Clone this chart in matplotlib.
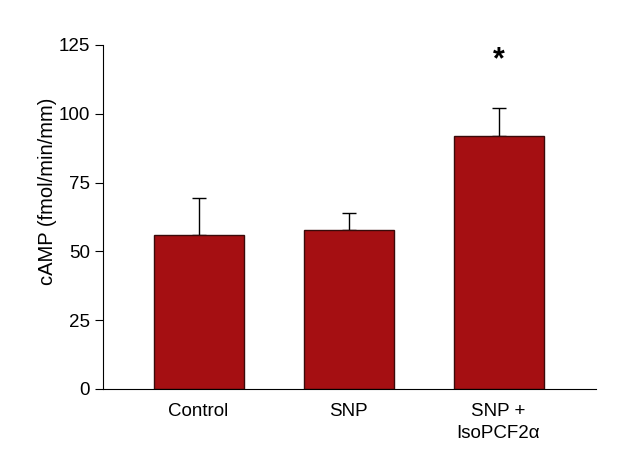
import numpy as np
import matplotlib.pyplot as plt

plt.rcParams['font.family'] = ['Liberation Sans', 'DejaVu Sans']

# data
groups = ["Control", "SNP", "SNP +\nIsoPCF2\u03b1"]
means = [55.9, 57.7, 91.9]
errs = [13.4, 6.2, 10.1]
yticks = [0, 25, 50, 75, 100, 125]

fig = plt.figure(figsize=(6.23, 4.55), dpi=100)
ax = fig.add_axes([0.1653, 0.1451, 0.7914, 0.756])

x = np.arange(len(groups))
ax.bar(x, means, width=0.6, color="#A50F12", edgecolor="#3a0a0a", linewidth=1, zorder=2)
ax.errorbar(x, means, yerr=[np.zeros(len(errs)), errs], fmt="none",
            ecolor="black", elinewidth=1, capsize=4.7, capthick=1, zorder=1)

# significance marker
ax.text(x[2], 119.5, "*", ha="center", va="center", fontsize=22, fontweight="bold")

ax.set_xlim(-0.637, 2.65)
ax.set_ylim(0, 125)
ax.set_yticks(yticks)
ax.set_xticks(x)
ax.set_xticklabels(groups, fontsize=13.5, linespacing=1.38)
ax.tick_params(axis="x", length=0, pad=10)
ax.tick_params(axis="y", labelsize=13.5, length=6, pad=3.5, direction="out")
ax.set_ylabel("cAMP (fmol/min/mm)", fontsize=14.5)
ax.yaxis.set_label_coords(-0.093, 0.576)

for s in ["top", "right"]:
    ax.spines[s].set_visible(False)

fig.savefig("out.png", dpi=100)
